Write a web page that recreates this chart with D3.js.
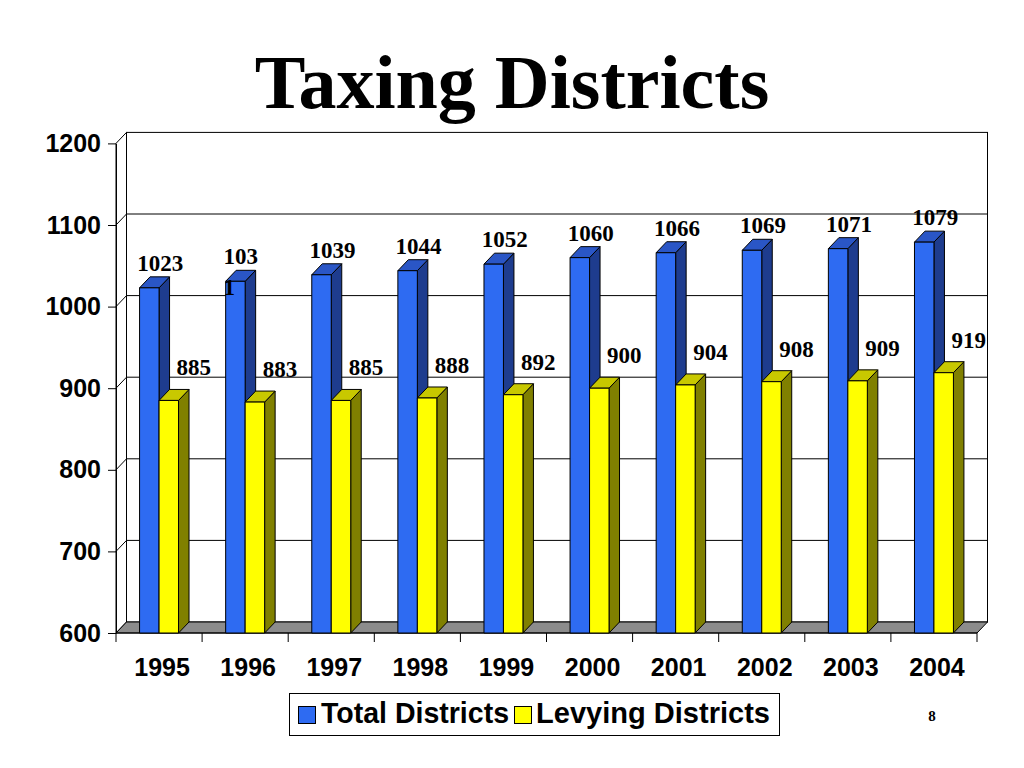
<!DOCTYPE html>
<html><head><meta charset="utf-8">
<script src="https://cdn.jsdelivr.net/npm/d3@7"></script>
<style>body{margin:0;background:#fff}svg{display:block}</style>
</head><body>
<svg id="c" width="1024" height="768"></svg>
<script>
const years = ["1995","1996","1997","1998","1999","2000","2001","2002","2003","2004"];
const totalDistricts = [1023,1031,1039,1044,1052,1060,1066,1069,1071,1079];
const levyingDistricts = [885,883,885,888,892,900,904,908,909,919];
const totalLabels = ["1023","103\n1","1039","1044","1052","1060","1066","1069","1071","1079"];
const seriesNames = ["Total Districts","Levying Districts"];
const yTicks = [600,700,800,900,1000,1100,1200];

const svg = d3.select("#c");
const DX = 10.5, DY = 11;
const y = d3.scaleLinear().domain([600,1200]).range([633,143.4]);
const x0 = d3.scaleBand().domain(years).range([116,977]);
const x1 = d3.scaleBand().domain(seriesNames).range([0,x0.bandwidth()]).paddingOuter(1.21);
const colors = {
  "Total Districts": {front:"#2e6bf2", side:"#1e3c8e", top:"#2a56c6"},
  "Levying Districts": {front:"#ffff00", side:"#808000", top:"#c8c800"}
};
const xL = x0.range()[0], xR = x0.range()[1];
const yBot = y(600), yTop = y(1200);

// title
svg.append("text").attr("x",512).attr("y",108).attr("text-anchor","middle")
  .attr("font-family","'Liberation Serif','Times New Roman',serif").attr("font-weight","bold")
  .attr("font-size",76).text("Taxing Districts");

// back wall
svg.append("rect").attr("x",xL+DX).attr("y",yTop-DY).attr("width",xR-xL).attr("height",yBot-yTop)
  .attr("fill","#fff").attr("stroke","#000").attr("stroke-width",1);
// left wall
svg.append("path").attr("d",`M${xL},${yBot}L${xL},${yTop}L${xL+DX},${yTop-DY}L${xL+DX},${yBot-DY}Z`)
  .attr("fill","#fff").attr("stroke","#000");
// gridlines
const grid = svg.append("g").attr("stroke","#000").attr("stroke-width",1).attr("fill","none");
yTicks.slice(1,-1).forEach(v=>{
  grid.append("path").attr("d",`M${xL},${y(v)}L${xL+DX},${y(v)-DY}L${xR+DX},${y(v)-DY}`);
});
// floor
svg.append("path").attr("d",`M${xL},${yBot}L${xL+DX},${yBot-DY}L${xR+DX},${yBot-DY}L${xR},${yBot}Z`)
  .attr("fill","#8c8c8c").attr("stroke","#000");

// y axis
const yAxis = svg.append("g").attr("transform",`translate(${xL},0)`)
  .call(d3.axisLeft(y).tickValues(yTicks).tickSize(8).tickSizeOuter(0).tickPadding(7).tickFormat(d3.format("d")));
yAxis.select(".domain").attr("stroke","#000");
yAxis.selectAll("text").attr("font-family","'Liberation Sans',Arial,sans-serif").attr("font-weight","bold")
  .attr("font-size",25).attr("fill","#000");
yAxis.selectAll(".tick line").attr("stroke","#000");

// x axis ticks & labels
const xg = svg.append("g");
years.concat(["end"]).forEach((d,i)=>{
  const xx = i<years.length ? x0(d) : xR;
  xg.append("line").attr("x1",xx).attr("x2",xx).attr("y1",yBot).attr("y2",yBot+9).attr("stroke","#000");
});
xg.append("line").attr("x1",xL).attr("x2",xR).attr("y1",yBot).attr("y2",yBot).attr("stroke","#000");
xg.selectAll("text.cat").data(years).join("text").attr("class","cat")
  .attr("x",d=>x0(d)+x0.bandwidth()/2+3).attr("y",676).attr("text-anchor","middle")
  .attr("font-family","'Liberation Sans',Arial,sans-serif").attr("font-weight","bold").attr("font-size",25)
  .text(d=>d);

// bars
const rows = years.map((yr,i)=>({yr, vals:[{s:seriesNames[0],v:totalDistricts[i]},{s:seriesNames[1],v:levyingDistricts[i]}]}));
const bw = x1.bandwidth();
const bars = svg.append("g").attr("stroke","#000").attr("stroke-width",1).attr("stroke-linejoin","round");
rows.forEach(r=>{
  r.vals.forEach(b=>{
    const a = x0(r.yr)+x1(b.s), c = a+bw, t = y(b.v), col = colors[b.s];
    bars.append("path").attr("d",`M${c},${yBot}L${c},${t}L${c+DX},${t-DY}L${c+DX},${yBot-DY}Z`).attr("fill",col.side);
    bars.append("path").attr("d",`M${a},${t}L${a+DX},${t-DY}L${c+DX},${t-DY}L${c},${t}Z`).attr("fill",col.top);
    bars.append("rect").attr("x",a).attr("y",t).attr("width",bw).attr("height",yBot-t).attr("fill",col.front);
  });
});

// value labels
const lab = svg.append("g").attr("font-family","'Liberation Serif','Times New Roman',serif")
  .attr("font-weight","bold").attr("font-size",23).attr("fill","#000");
years.forEach((yr,i)=>{
  const cx = x0(yr)+x1(seriesNames[0])+bw/2+11;
  const lines = totalLabels[i].split("\n");
  if(lines.length===1){
    lab.append("text").attr("x",cx).attr("y",y(totalDistricts[i])-17).attr("text-anchor","middle").text(lines[0]);
  } else {
    const full = lines.join("");
    const w = full.length*23*0.5;
    const t = lab.append("text").attr("x",cx-w/2).attr("y",y(totalDistricts[i])-17).attr("text-anchor","start");
    lines.forEach((ln,k)=>t.append("tspan").attr("x",cx-w/2).attr("dy",k?31:0).text(ln));
  }
  const cy = x0(yr)+x1(seriesNames[1])+bw/2+25;
  lab.append("text").attr("x",cy).attr("y",y(levyingDistricts[i])-25).attr("text-anchor","middle").text(levyingDistricts[i]);
});

// legend
const lg = svg.append("g");
lg.append("rect").attr("x",289.5).attr("y",693.5).attr("width",490).attr("height",42).attr("fill","#fff").attr("stroke","#000");
const legendItems = [{s:seriesNames[0],sx:298,tx:321,tw:188},{s:seriesNames[1],sx:514,tx:536,tw:234}];
legendItems.forEach(it=>{
  lg.append("rect").attr("x",it.sx+0.5).attr("y",706.5).attr("width",17).attr("height",17)
    .attr("fill",colors[it.s].front).attr("stroke","#000");
  lg.append("text").attr("x",it.tx).attr("y",723).attr("font-family","'Liberation Sans',Arial,sans-serif")
    .attr("font-weight","bold").attr("font-size",29).attr("textLength",it.tw).attr("lengthAdjust","spacingAndGlyphs").text(it.s);
});
svg.append("text").attr("x",932).attr("y",721).attr("text-anchor","middle")
  .attr("font-family","'Liberation Serif','Times New Roman',serif").attr("font-weight","bold").attr("font-size",15).text("8");
</script>
</body></html>
